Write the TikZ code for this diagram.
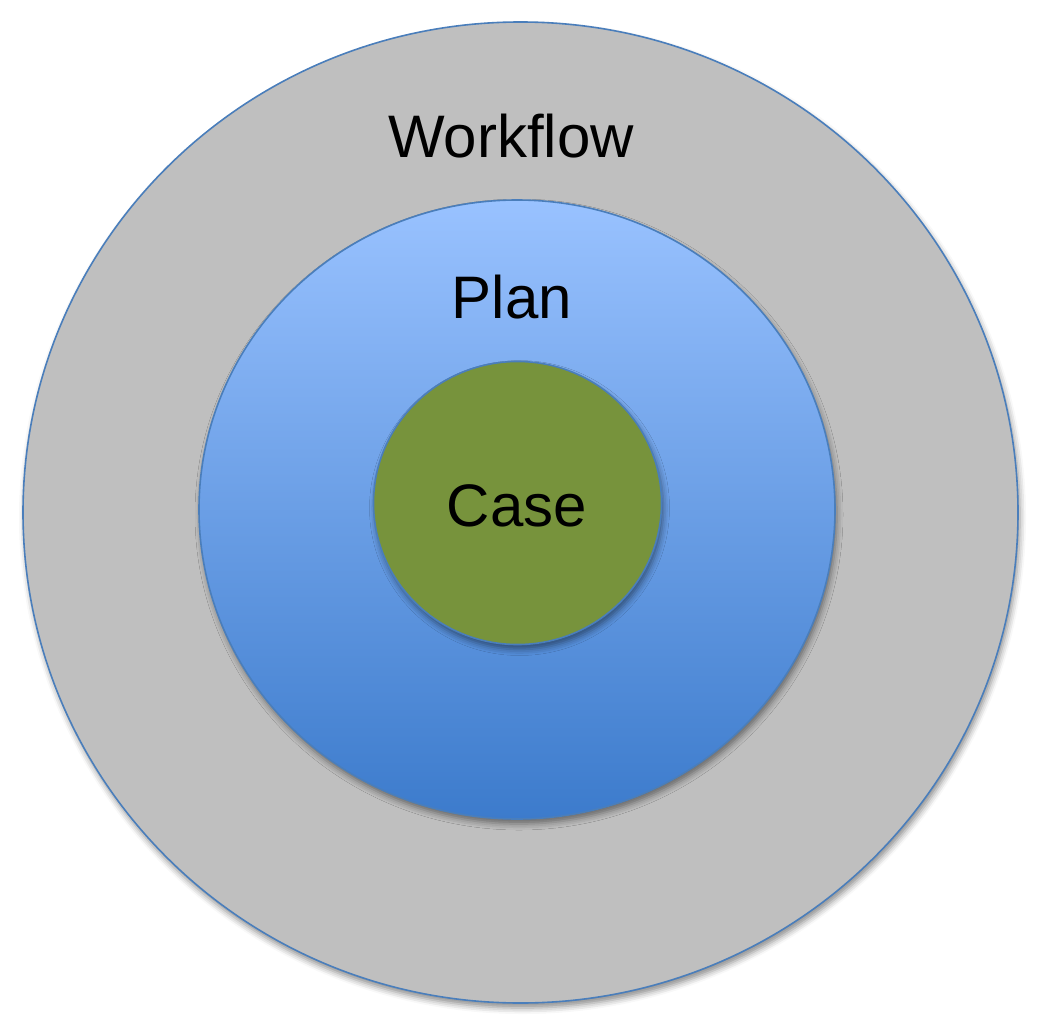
\documentclass[tikz,border=0pt]{standalone}
\usepackage{fontspec}
\setmainfont{Liberation Sans}
\usetikzlibrary{shapes.geometric,shadows.blur}
\definecolor{rimblue}{RGB}{74,126,187}
\definecolor{ringgray}{RGB}{191,191,191}
\definecolor{plantop}{RGB}{153,194,255}
\definecolor{planmid}{RGB}{128,173,240}
\definecolor{planbot}{RGB}{60,123,204}
\definecolor{casegreen}{RGB}{119,147,60}
\tikzset{
  disc/.style={ellipse, draw=rimblue, line width=1.6pt, inner sep=0pt,
    blur shadow={shadow xshift=2pt, shadow yshift=-5pt, shadow blur radius=6pt, shadow opacity=45}},
  lbl/.style={font=\fontsize{60}{60}\selectfont, text=black, inner sep=0pt, anchor=base}
}
\begin{document}
\begin{tikzpicture}[x=1pt,y=-1pt]
\useasboundingbox (0,0) rectangle (1044,1033);
\node[disc, fill=ringgray, minimum width=995pt, minimum height=981pt] (outer) at (520.5,512.5) {};
\node[disc, top color=plantop, middle color=planmid, bottom color=planbot, minimum width=636pt, minimum height=619pt] (mid) at (517,509.5) {};
\node[disc, fill=casegreen, minimum width=288pt, minimum height=283pt] (inner) at (517.5,503) {};
\node[lbl] (wf) at (511,157) {Workflow};
\node[lbl] (pl) at (512,318) {Plan};
\node[lbl] (cs) at (517,526) {Case};
\end{tikzpicture}
\end{document}
